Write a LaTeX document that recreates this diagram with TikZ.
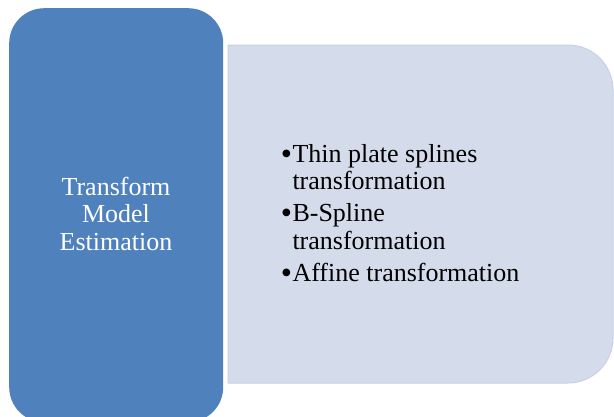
\documentclass[tikz,border=0pt]{standalone}
\usepackage{fontspec}
\setmainfont{Liberation Serif}
\definecolor{bluebox}{HTML}{4F81BD}
\definecolor{lightbox}{HTML}{D4DCEB}
\definecolor{lightedge}{HTML}{C8D1E4}
\begin{document}
\begin{tikzpicture}[x=1pt,y=1pt,
  itemtxt/.style={anchor=base west,inner sep=0pt,outer sep=0pt,font=\fontsize{26}{27}\selectfont,text=black},
  bul/.style={anchor=base,inner sep=0pt,outer sep=0pt,font=\fontsize{32}{32}\selectfont,text=black},
  headtxt/.style={inner sep=0pt,align=center,text=white,font=\fontsize{26}{27.5}\selectfont}]
\useasboundingbox (0,0) rectangle (614,-416);
\fill[white] (0,0) rectangle (614,-416);
% light panel
\path[fill=lightbox,draw=lightedge,line width=1pt]
  (228,-45) -- (568,-45) arc[start angle=90,end angle=0,radius=45]
  -- (613,-338) arc[start angle=0,end angle=-90,radius=45]
  -- (228,-383) -- cycle;
% blue panel
\node[fill=bluebox,rounded corners=35pt,minimum width=214pt,minimum height=414pt,anchor=north west,inner sep=0pt] (est) at (9,-8) {};
\node[headtxt,anchor=base] (t1) at (116,-195) {Transform};
\node[headtxt,anchor=base] (t2) at (116,-222) {Model};
\node[headtxt,anchor=base] (t3) at (116,-250) {Estimation};
% items
\node[bul] (b1) at (286.5,-164.5) {\textbullet};
\node[itemtxt] (i1a) at (292.5,-162) {Thin plate splines};
\node[itemtxt] (i1b) at (292.5,-189) {transformation};
\node[bul] (b2) at (286.5,-223.5) {\textbullet};
\node[itemtxt] (i2a) at (292.5,-221) {B-Spline};
\node[itemtxt] (i2b) at (292.5,-249) {transformation};
\node[bul] (b3) at (286.5,-283.5) {\textbullet};
\node[itemtxt] (i3a) at (292.5,-281) {Affine transformation};
\end{tikzpicture}
\end{document}
